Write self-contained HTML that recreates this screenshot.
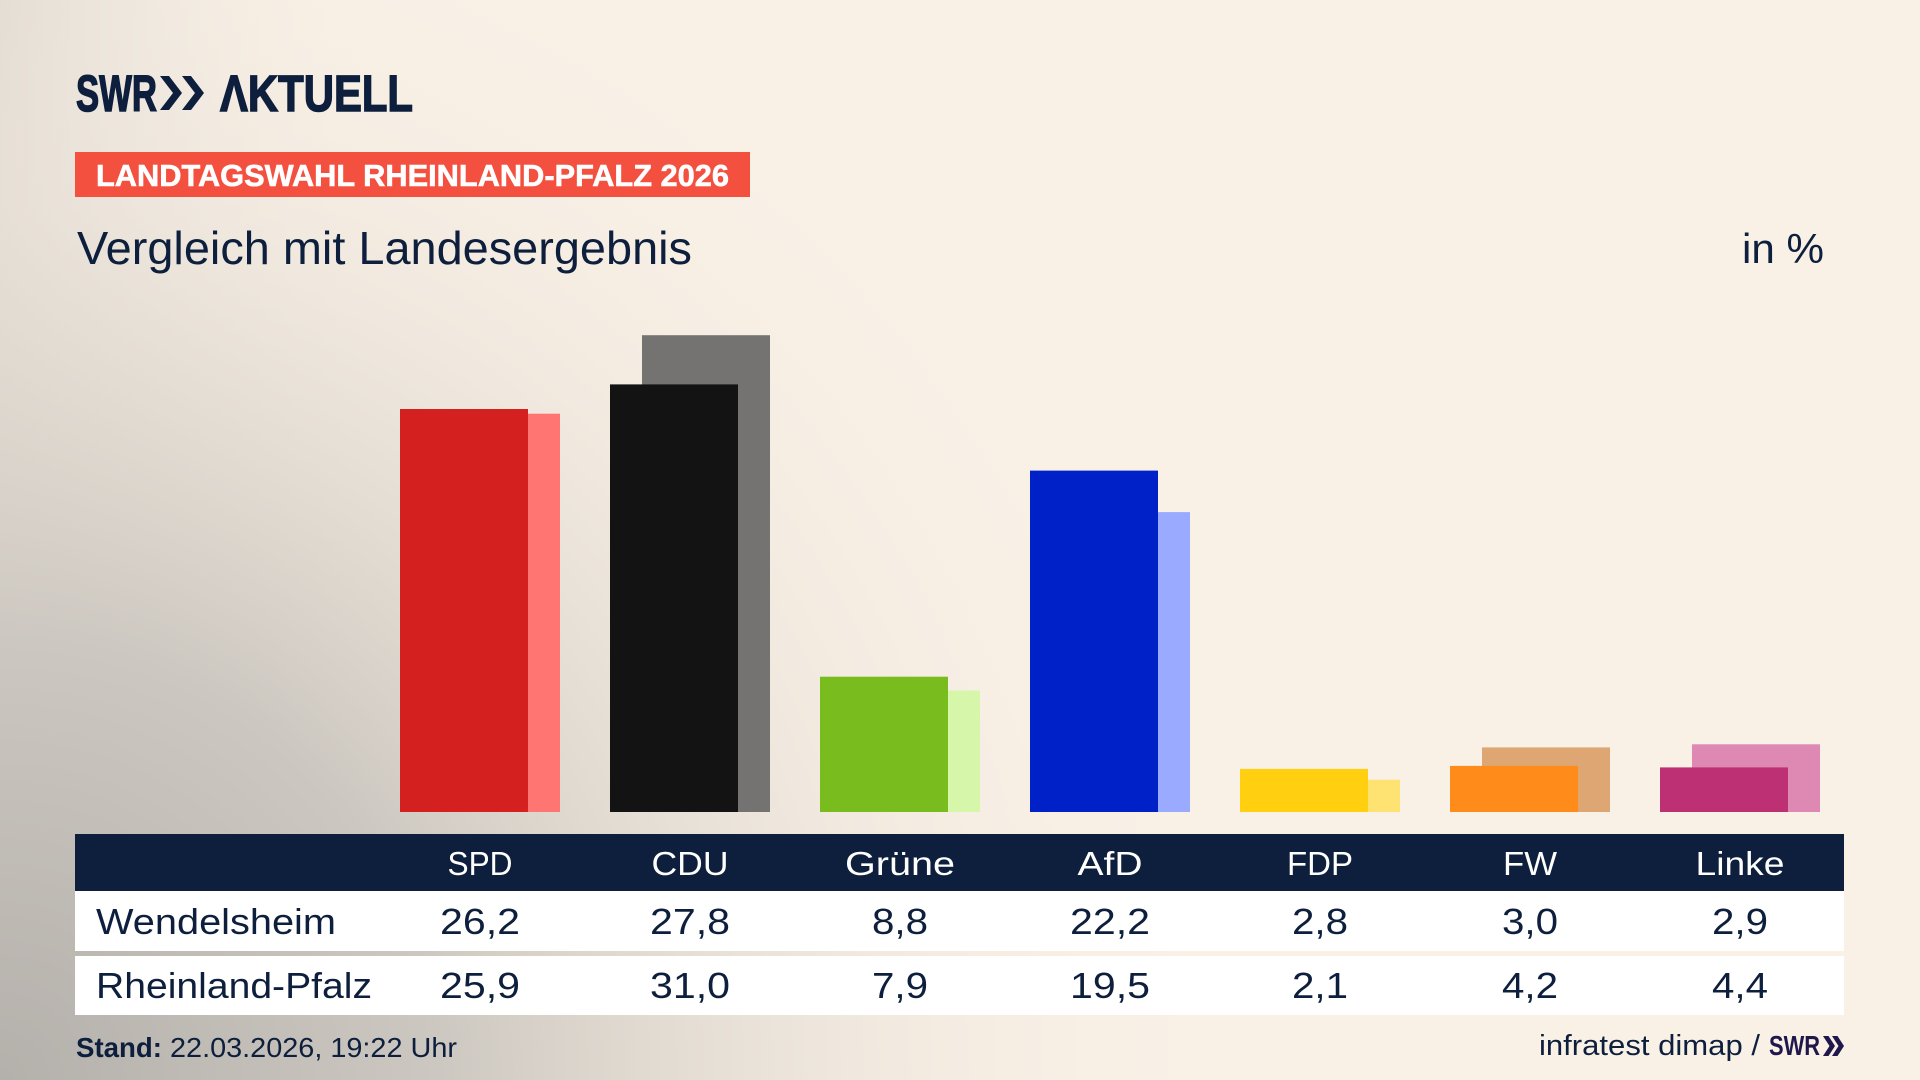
<!DOCTYPE html>
<html>
<head>
<meta charset="utf-8">
<style>
html,body{margin:0;padding:0;width:1920px;height:1080px;overflow:hidden;}
svg{display:block;}
text{font-family:"Liberation Sans",sans-serif;}
</style>
</head>
<body>
<svg width="1920" height="1080" viewBox="0 0 1920 1080" xmlns="http://www.w3.org/2000/svg">
<defs>
<radialGradient id="g1" cx="0" cy="1080" r="1250" gradientUnits="userSpaceOnUse">
<stop offset="0" stop-color="#b4b0ab"/>
<stop offset="0.35" stop-color="#ccc7c0"/>
<stop offset="0.7" stop-color="#ece4da" stop-opacity="0.6"/>
<stop offset="1" stop-color="#f9f1e6" stop-opacity="0"/>
</radialGradient>
<linearGradient id="g2" x1="0" y1="0" x2="1" y2="0">
<stop offset="0" stop-color="#d6d0c9" stop-opacity="0.75"/>
<stop offset="0.2" stop-color="#f9f1e6" stop-opacity="0"/>
</linearGradient>
</defs>
<rect x="0" y="0" width="1920" height="1080" fill="#f9f1e6"/>
<rect x="0" y="0" width="1920" height="1080" fill="url(#g2)"/>
<rect x="0" y="0" width="1920" height="1080" fill="url(#g1)"/>

<!-- Logo -->
<text x="76" y="111" font-size="51" font-weight="bold" fill="#0d1f3c" stroke="#0d1f3c" stroke-width="1.5" textLength="81" lengthAdjust="spacingAndGlyphs">SWR</text>
<polygon points="160,76 169,76 182,93 169,110 160,110 173,93" fill="#0d1f3c"/>
<polygon points="182,76 191,76 204,93 191,110 182,110 195,93" fill="#0d1f3c"/>
<text x="220" y="111" font-size="51" font-weight="bold" fill="#0d1f3c" stroke="#0d1f3c" stroke-width="1.5" textLength="193" lengthAdjust="spacingAndGlyphs">ΛKTUELL</text>

<!-- Banner -->
<rect x="75" y="152" width="675" height="45" fill="#f4503f"/>
<text x="96" y="186" font-size="31" font-weight="bold" fill="#ffffff" stroke="#ffffff" stroke-width="0.6" textLength="633" lengthAdjust="spacingAndGlyphs">LANDTAGSWAHL RHEINLAND-PFALZ 2026</text>

<!-- Subtitle -->
<text x="77" y="264" font-size="46" fill="#0d1f3c" textLength="615" lengthAdjust="spacingAndGlyphs">Vergleich mit Landesergebnis</text>
<text x="1742" y="263" font-size="42" fill="#0d1f3c" textLength="82" lengthAdjust="spacingAndGlyphs">in %</text>

<!-- Bars -->
<rect x="432" y="413.7" width="128" height="398.3" fill="#ff7571"/>
<rect x="400" y="409" width="128" height="403" fill="#d52020"/>

<rect x="642" y="335.2" width="128" height="476.8" fill="#747371"/>
<rect x="610" y="384.4" width="128" height="427.6" fill="#131313"/>

<rect x="852" y="690.5" width="128" height="121.5" fill="#d6f6aa"/>
<rect x="820" y="676.7" width="128" height="135.3" fill="#78bd1d"/>

<rect x="1062" y="512.1" width="128" height="299.9" fill="#9aabff"/>
<rect x="1030" y="470.6" width="128" height="341.4" fill="#0020c8"/>

<rect x="1272" y="779.7" width="128" height="32.3" fill="#ffe372"/>
<rect x="1240" y="768.9" width="128" height="43.1" fill="#ffcf10"/>

<rect x="1482" y="747.4" width="128" height="64.6" fill="#dea673"/>
<rect x="1450" y="765.9" width="128" height="46.1" fill="#ff8c1a"/>

<rect x="1692" y="744.3" width="128" height="67.7" fill="#de88b4"/>
<rect x="1660" y="767.4" width="128" height="44.6" fill="#bd3174"/>

<!-- Table -->
<rect x="75" y="834" width="1769" height="57" fill="#0d1f3c"/>
<rect x="75" y="891" width="1769" height="60" fill="#ffffff"/>
<rect x="75" y="956" width="1769" height="59" fill="#ffffff"/>

<g font-size="33" fill="#ffffff">
<text x="447.5" y="875" textLength="65" lengthAdjust="spacingAndGlyphs">SPD</text>
<text x="651.5" y="875" textLength="77" lengthAdjust="spacingAndGlyphs">CDU</text>
<text x="845" y="875" textLength="110" lengthAdjust="spacingAndGlyphs">Grüne</text>
<text x="1077.5" y="875" textLength="65" lengthAdjust="spacingAndGlyphs">AfD</text>
<text x="1287" y="875" textLength="66" lengthAdjust="spacingAndGlyphs">FDP</text>
<text x="1503" y="875" textLength="54" lengthAdjust="spacingAndGlyphs">FW</text>
<text x="1695.5" y="875" textLength="89" lengthAdjust="spacingAndGlyphs">Linke</text>
</g>

<g font-size="36" fill="#0d1f3c">
<text x="96" y="934" textLength="240" lengthAdjust="spacingAndGlyphs">Wendelsheim</text>
<text x="96" y="998" textLength="276" lengthAdjust="spacingAndGlyphs">Rheinland-Pfalz</text>

<text x="440" y="934" textLength="80" lengthAdjust="spacingAndGlyphs">26,2</text>
<text x="650" y="934" textLength="80" lengthAdjust="spacingAndGlyphs">27,8</text>
<text x="872" y="934" textLength="56" lengthAdjust="spacingAndGlyphs">8,8</text>
<text x="1070" y="934" textLength="80" lengthAdjust="spacingAndGlyphs">22,2</text>
<text x="1292" y="934" textLength="56" lengthAdjust="spacingAndGlyphs">2,8</text>
<text x="1502" y="934" textLength="56" lengthAdjust="spacingAndGlyphs">3,0</text>
<text x="1712" y="934" textLength="56" lengthAdjust="spacingAndGlyphs">2,9</text>

<text x="440" y="998" textLength="80" lengthAdjust="spacingAndGlyphs">25,9</text>
<text x="650" y="998" textLength="80" lengthAdjust="spacingAndGlyphs">31,0</text>
<text x="872" y="998" textLength="56" lengthAdjust="spacingAndGlyphs">7,9</text>
<text x="1070" y="998" textLength="80" lengthAdjust="spacingAndGlyphs">19,5</text>
<text x="1292" y="998" textLength="56" lengthAdjust="spacingAndGlyphs">2,1</text>
<text x="1502" y="998" textLength="56" lengthAdjust="spacingAndGlyphs">4,2</text>
<text x="1712" y="998" textLength="56" lengthAdjust="spacingAndGlyphs">4,4</text>
</g>

<!-- Footer -->
<text x="76" y="1057" font-size="28" font-weight="bold" fill="#0d1f3c" textLength="86" lengthAdjust="spacingAndGlyphs">Stand:</text>
<text x="170" y="1057" font-size="28" fill="#0d1f3c" textLength="287" lengthAdjust="spacingAndGlyphs">22.03.2026, 19:22 Uhr</text>

<text x="1539" y="1055" font-size="29" fill="#0d1f3c" textLength="221" lengthAdjust="spacingAndGlyphs">infratest dimap /</text>
<text x="1769" y="1055" font-size="28" font-weight="bold" fill="#20184a" textLength="51" lengthAdjust="spacingAndGlyphs">SWR</text>
<polygon points="1823,1036 1828.5,1036 1835,1046 1828.5,1056 1823,1056 1829.5,1046" fill="#20184a"/>
<polygon points="1832,1036 1837.5,1036 1844,1046 1837.5,1056 1832,1056 1838.5,1046" fill="#20184a"/>
</svg>
</body>
</html>
